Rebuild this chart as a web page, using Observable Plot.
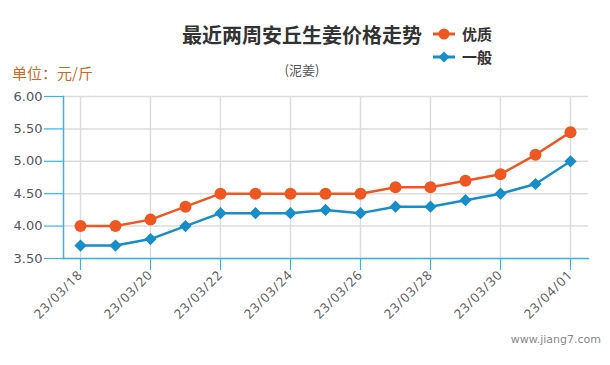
<!DOCTYPE html>
<html>
<head>
<meta charset="utf-8">
<script src="https://cdn.jsdelivr.net/npm/d3@7"></script>
<script src="https://cdn.jsdelivr.net/npm/@observablehq/plot@0.6"></script>
<style>
  body { margin: 0; background: #fff; }
  #wrap { position: relative; width: 610px; height: 365px; overflow: hidden; font-family: "DejaVu Sans", sans-serif; }
  #wrap svg.plot { position: absolute; left: 0; top: 0; }
  .abs { position: absolute; white-space: nowrap; line-height: 1; }
  #title { left: 0; width: 604px; top: 20px; text-align: center; font: bold 20px "Noto Sans CJK SC", sans-serif; color: #333; }
  #sub { left: 0; width: 604px; top: 60px; text-align: center; font: 13px "Noto Sans CJK SC", sans-serif; color: #555; }
  #unit { left: 12px; top: 62px; font: 15px "Noto Sans CJK SC", sans-serif; color: #cc6a1f; }
  #mark { right: 9px; top: 333px; font: 11px "DejaVu Sans", sans-serif; color: #888; }
  .leg { left: 433px; font: bold 15px "Noto Sans CJK SC", sans-serif; color: #333; display: flex; align-items: center; }
  .leg svg { margin-right: 7px; }
  .xax text { letter-spacing: 1px; }
</style>
</head>
<body>
<div id="wrap">
  <div id="title" class="abs"></div>
  <div id="sub" class="abs"></div>
  <div id="unit" class="abs"></div>
  <div id="mark" class="abs"></div>
  <div id="leg0" class="abs leg" style="top:23px"></div>
  <div id="leg1" class="abs leg" style="top:46px"></div>
</div>
<script>
const dateLabels = ["2023-03-18","2023-03-19","2023-03-20","2023-03-21","2023-03-22","2023-03-23","2023-03-24","2023-03-25","2023-03-26","2023-03-27","2023-03-28","2023-03-29","2023-03-30","2023-03-31","2023-04-01"];
const premium = [4.0, 4.0, 4.1, 4.3, 4.5, 4.5, 4.5, 4.5, 4.5, 4.6, 4.6, 4.7, 4.8, 5.1, 5.45];
const ordinary = [3.7, 3.7, 3.8, 4.0, 4.2, 4.2, 4.2, 4.25, 4.2, 4.3, 4.3, 4.4, 4.5, 4.65, 5.0];
const seriesNames = ["优质", "一般"];
const yTicks = [3.5, 4.0, 4.5, 5.0, 5.5, 6.0];
const titleText = "最近两周安丘生姜价格走势";
const subtitleText = "(泥姜)";
const unitText = "单位：元/斤";
const watermark = "www.jiang7.com";

const orange = "#ef5722";
const blue = "#178dca";
const axisBlue = "#3db3e6";

const dates = dateLabels.map(d => new Date(d + "T00:00:00Z"));
const xTicks = dates.filter((d, i) => i % 2 === 0);
const dataP = dates.map((d, i) => ({date: d, value: premium[i]}));
const dataO = dates.map((d, i) => ({date: d, value: ordinary[i]}));
const fmt = d3.utcFormat("%y/%m/%d");

const chart = Plot.plot({
  width: 610,
  height: 365,
  marginTop: 96,
  marginLeft: 63,
  marginRight: 22,
  marginBottom: 107,
  style: {fontFamily: "DejaVu Sans, sans-serif", background: "transparent"},
  x: {type: "utc", domain: [dates[0], dates[dates.length - 1]], insetLeft: 17, insetRight: 18},
  y: {domain: [3.5, 6.0]},
  marks: [
    Plot.gridY(yTicks, {stroke: "#dcdcdc", strokeOpacity: 1, strokeWidth: 1.5}),
    Plot.gridX(xTicks, {stroke: "#dcdcdc", strokeOpacity: 1, strokeWidth: 1.5}),
    Plot.axisY(yTicks, {tickFormat: d => d.toFixed(2), tickSize: 19, tickPadding: 2, stroke: axisBlue, strokeWidth: 1.2, fill: "#555", fontSize: 13, label: null}),
    Plot.axisX(xTicks, {tickFormat: fmt, tickRotate: -45, tickSize: 12, tickPadding: 2, stroke: axisBlue, strokeWidth: 1.2, fill: "#555", fontSize: 13, fontFamily: "Open Sans, sans-serif", className: "xax", label: null}),
    Plot.frame({anchor: "left", stroke: axisBlue, strokeWidth: 1.5}),
    Plot.frame({anchor: "bottom", stroke: axisBlue, strokeWidth: 1.5}),
    Plot.line(dataO, {x: "date", y: "value", stroke: blue, strokeWidth: 2.5}),
    Plot.dot(dataO, {x: "date", y: "value", fill: blue, symbol: "diamond2", r: 5.5}),
    Plot.line(dataP, {x: "date", y: "value", stroke: orange, strokeWidth: 2.5}),
    Plot.dot(dataP, {x: "date", y: "value", fill: orange, r: 6})
  ]
});
chart.classList.add("plot");
document.getElementById("wrap").prepend(chart);

document.getElementById("title").textContent = titleText;
document.getElementById("sub").textContent = subtitleText;
document.getElementById("unit").textContent = unitText;
document.getElementById("mark").textContent = watermark;

function legendItem(id, name, color, shape) {
  const el = document.getElementById(id);
  const ns = "http://www.w3.org/2000/svg";
  const svg = document.createElementNS(ns, "svg");
  svg.setAttribute("width", 22); svg.setAttribute("height", 14);
  const line = document.createElementNS(ns, "line");
  line.setAttribute("x1", 0); line.setAttribute("x2", 22); line.setAttribute("y1", 7); line.setAttribute("y2", 7);
  line.setAttribute("stroke", color); line.setAttribute("stroke-width", 3);
  svg.appendChild(line);
  if (shape === "circle") {
    const c = document.createElementNS(ns, "circle");
    c.setAttribute("cx", 11); c.setAttribute("cy", 7); c.setAttribute("r", 5.5); c.setAttribute("fill", color);
    svg.appendChild(c);
  } else {
    const p = document.createElementNS(ns, "path");
    p.setAttribute("d", "M11,1.5L16.5,7L11,12.5L5.5,7Z"); p.setAttribute("fill", color);
    svg.appendChild(p);
  }
  el.appendChild(svg);
  const t = document.createElement("span");
  t.textContent = name;
  el.appendChild(t);
}
legendItem("leg0", seriesNames[0], orange, "circle");
legendItem("leg1", seriesNames[1], blue, "diamond");
</script>
</body>
</html>
